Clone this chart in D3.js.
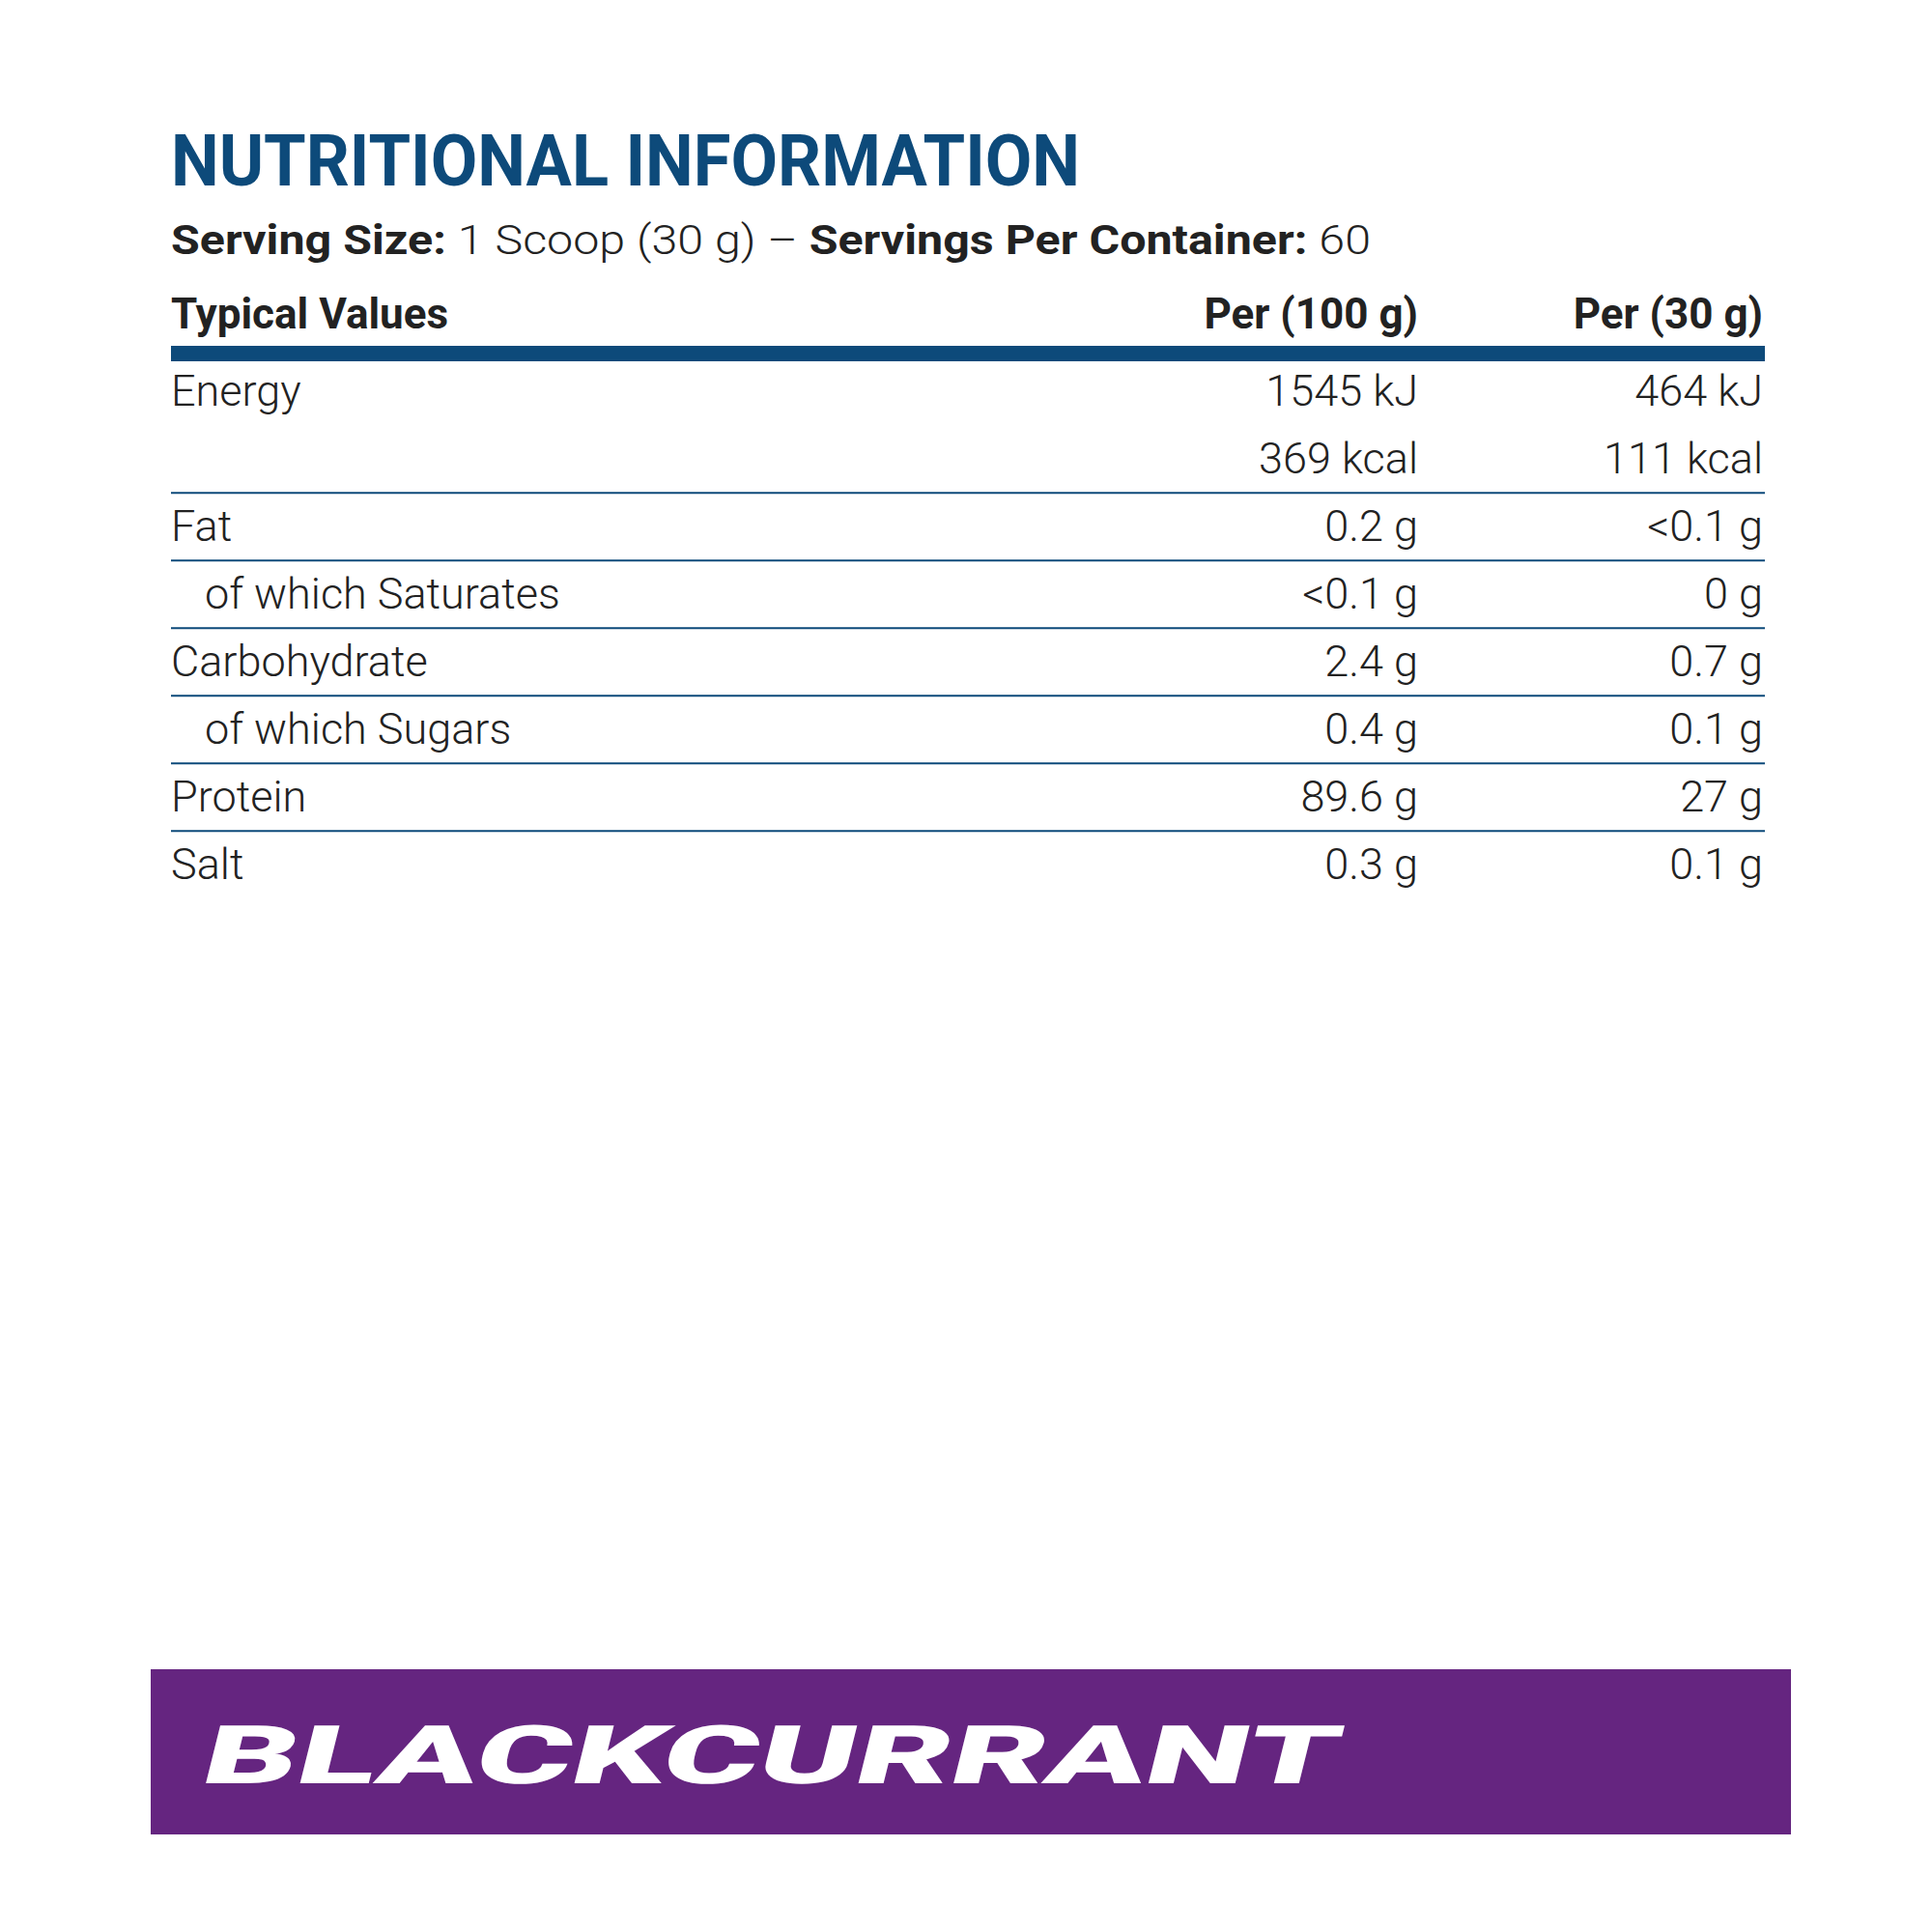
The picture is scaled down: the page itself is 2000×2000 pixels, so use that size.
<!DOCTYPE html>
<html><head><meta charset="utf-8">
<script src="https://cdn.jsdelivr.net/npm/d3@7"></script>
<style>body{margin:0;background:#fff}</style></head>
<body><svg id="c" width="2000" height="2000"></svg>
<script>
const nutrients = ["Energy","","Fat","of which Saturates","Carbohydrate","of which Sugars","Protein","Salt"];
const indented = [false,false,false,true,false,true,false,false];
const per100 = ["1545 kJ","369 kcal","0.2 g","<0.1 g","2.4 g","0.4 g","89.6 g","0.3 g"];
const per30 = ["464 kJ","111 kcal","<0.1 g","0 g","0.7 g","0.1 g","27 g","0.1 g"];
const ruleAfter = [false,true,true,true,true,true,true,false];
const headers = ["Typical Values","Per (100 g)","Per (30 g)"];

const svg = d3.select("#c");
const blue = "#0d4a7a", ink = "#222";
const F = "Roboto, 'DejaVu Sans', sans-serif";
const L = 177, R = 1827, C1 = 1468, C2 = 1825;

svg.append("text").attr("x",L).attr("y",192).attr("fill",blue).attr("font-family",F)
  .attr("font-weight",700).attr("font-size",74).attr("textLength",941).attr("lengthAdjust","spacingAndGlyphs")
  .text("NUTRITIONAL INFORMATION");

const s = svg.append("text").attr("x",L).attr("y",263).attr("fill",ink).attr("font-family",F)
  .attr("font-size",43).attr("textLength",1242).attr("lengthAdjust","spacingAndGlyphs");
s.append("tspan").attr("font-weight",700).text("Serving Size: ");
s.append("tspan").attr("font-weight",300).text("1 Scoop (30 g)  –  ");
s.append("tspan").attr("font-weight",700).text("Servings Per Container: ");
s.append("tspan").attr("font-weight",300).text("60");

const hx = [L, C1, C2], ha = ["start","end","end"];
headers.forEach((h,i)=> svg.append("text").attr("x",hx[i]).attr("y",340).attr("text-anchor",ha[i])
  .attr("fill",ink).attr("font-family",F).attr("font-weight",700).attr("font-size",44).text(h));

svg.append("rect").attr("x",L).attr("y",358).attr("width",R-L).attr("height",16).attr("fill",blue);

const y = d3.scalePoint().domain(d3.range(nutrients.length)).range([420,910]);
const step = y.step();
const g = svg.append("g").attr("font-family",F).attr("font-weight",300).attr("font-size",45).attr("fill",ink);
nutrients.forEach((n,i)=>{
  g.append("text").attr("x", indented[i]?212:L).attr("y",y(i)).text(n);
  g.append("text").attr("x",C1).attr("y",y(i)).attr("text-anchor","end").text(per100[i]);
  g.append("text").attr("x",C2).attr("y",y(i)).attr("text-anchor","end").text(per30[i]);
  if (ruleAfter[i]) svg.append("line").attr("x1",L).attr("x2",R)
    .attr("y1",y(i)+step*0.29).attr("y2",y(i)+step*0.29).attr("stroke",blue).attr("stroke-width",2);
});

svg.append("rect").attr("x",156).attr("y",1728).attr("width",1698).attr("height",171).attr("fill","#652580");
svg.append("text").attr("transform","translate(205,1846) skewX(-14)").attr("fill","#fff")
  .attr("font-family",F).attr("font-weight",900).attr("font-size",84)
  .attr("textLength",1175).attr("lengthAdjust","spacingAndGlyphs").text("BLACKCURRANT");
</script></body></html>
